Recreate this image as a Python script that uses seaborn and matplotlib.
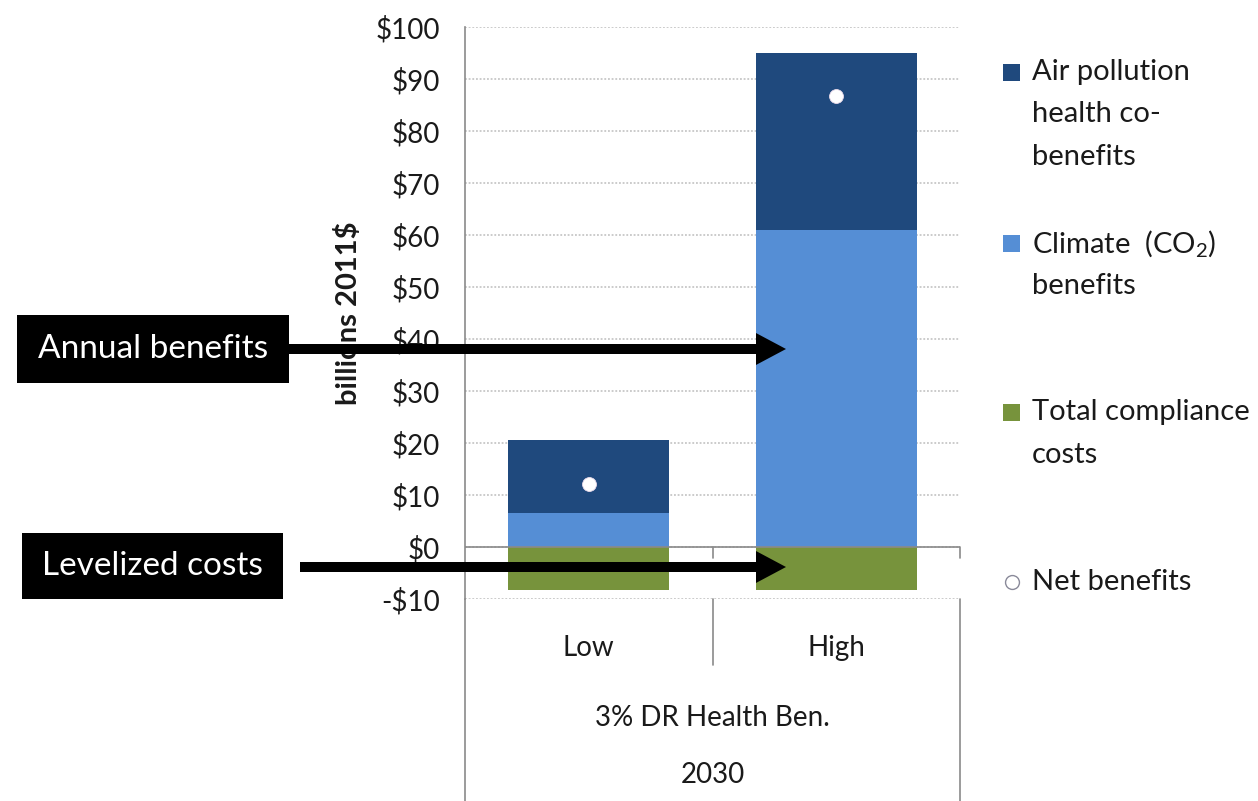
import numpy as np
import pandas as pd
import matplotlib
matplotlib.use("Agg")
import matplotlib.pyplot as plt
from matplotlib.patches import Rectangle, FancyArrowPatch
from matplotlib.lines import Line2D
import seaborn as sns

# ---- data (billions 2011$) ----
categories = ["Low", "High"]
climate_benefits = [6.5, 61.0]
health_cobenefits = [14.0, 34.0]
compliance_costs = [-8.3, -8.3]
net_benefits = [12.2, 86.7]
y_ticks = [-10, 0, 10, 20, 30, 40, 50, 60, 70, 80, 90, 100]
y_tick_labels = ["-$10", "$0", "$10", "$20", "$30", "$40", "$50",
                 "$60", "$70", "$80", "$90", "$100"]
group_label = "3% DR Health Ben."
year_label = "2030"

legend_entries = [
    (["Air pollution", "health co-", "benefits"], "square", "#1F497D"),
    (["Climate  (CO$_2$)", "benefits"], "square", "#558ED5"),
    (["Total compliance", "costs"], "square", "#77933C"),
    (["Net benefits"], "circle", "white"),
]

C_HEALTH = "#1F497D"
C_CLIMATE = "#558ED5"
C_COST = "#77933C"
AXIS_GRAY = "#8a8a8a"
TEXT = "#1a1a1a"

sns.set_style("white")
plt.rcParams["font.family"] = ["Lato", "DejaVu Sans"]
plt.rcParams["mathtext.fontset"] = "custom"
plt.rcParams["mathtext.rm"] = "Lato"
plt.rcParams["mathtext.default"] = "regular"

W, H = 1258, 801
fig = plt.figure(figsize=(W / 100, H / 100), dpi=100)


def fx(px):
    return px / W


def fy(py):
    return 1 - py / H


ax_left, ax_right, ax_top, ax_bottom = 465, 960, 27, 599
ax = fig.add_axes([fx(ax_left), fy(ax_bottom), fx(ax_right - ax_left),
                   (ax_bottom - ax_top) / H])

df = pd.DataFrame({
    "scenario": categories,
    "climate": climate_benefits,
    "health": health_cobenefits,
    "cost": compliance_costs,
    "net": net_benefits,
})
df["benefits_total"] = df["climate"] + df["health"]

bar_w = 0.65
bar_kw = dict(saturation=1, width=bar_w, ax=ax, zorder=2,
              edgecolor="none", linewidth=0)
# stacked benefits: total first, climate on top of it
sns.barplot(data=df, x="scenario", y="benefits_total", color=C_HEALTH, **bar_kw)
sns.barplot(data=df, x="scenario", y="climate", color=C_CLIMATE, **bar_kw)
sns.barplot(data=df, x="scenario", y="cost", color=C_COST, **bar_kw)
sns.stripplot(data=df, x="scenario", y="net", jitter=False, color="white",
              size=10, edgecolor="#ecdcec", linewidth=0.6, ax=ax, zorder=5)

n = len(categories)
ax.set_xlim(-0.5, n - 0.5)
ax.set_ylim(y_ticks[0], y_ticks[-1])
ax.set_yticks(y_ticks)
ax.set_yticklabels(y_tick_labels)
ax.set_xticks(range(n))
ax.set_xticklabels(categories)
ax.set_xlabel("")
ax.set_ylabel("")

ax.tick_params(axis="y", length=7, width=1.2, color=AXIS_GRAY, pad=11,
               labelsize=20, labelcolor=TEXT)
ax.tick_params(axis="x", length=0, pad=26, labelsize=20, labelcolor=TEXT)

ax.yaxis.grid(True, linestyle=(0, (1.2, 1.2)), color="#bdbdbd", lw=1.1)
ax.xaxis.grid(False)
ax.set_axisbelow(True)

for s in ["top", "right", "bottom"]:
    ax.spines[s].set_visible(False)
ax.spines["left"].set_color(AXIS_GRAY)
ax.spines["left"].set_linewidth(1.2)

# horizontal category axis at zero with short tick marks between groups
ax.axhline(0, color=AXIS_GRAY, lw=1.2, zorder=3)
bounds = np.arange(n + 1) - 0.5
for b in bounds[1:]:
    ax.plot([b, b], [0, -2.1], color=AXIS_GRAY, lw=1.2, zorder=3,
            clip_on=False)

# category table lines below the plot
fig.add_artist(Line2D([fx(ax_left)] * 2, [fy(ax_bottom), 0],
                      color=AXIS_GRAY, lw=1.2))
fig.add_artist(Line2D([fx(ax_right)] * 2, [fy(ax_bottom), 0],
                      color=AXIS_GRAY, lw=1.2))
mid_x = (ax_left + ax_right) / 2
fig.add_artist(Line2D([fx(mid_x)] * 2, [fy(ax_bottom), fy(665)],
                      color=AXIS_GRAY, lw=1.2))
fig.text(fx(mid_x), fy(718), group_label, ha="center", va="center",
         fontsize=20, color=TEXT)
fig.text(fx(mid_x), fy(775), year_label, ha="center", va="center",
         fontsize=20, color=TEXT)

# y-axis title
fig.text(fx(349), fy(313), "billions 2011$", rotation=90, ha="center",
         va="center", fontsize=21, fontweight="bold", color=TEXT)

# legend
line_gap = 42.5
for (lines, kind, col), y0 in zip(legend_entries, [72, 243, 412, 582]):
    if kind == "square":
        fig.add_artist(Rectangle((fx(1003), fy(y0 + 9)), fx(17), 17 / H,
                                 facecolor=col, edgecolor="none"))
    else:
        fig.add_artist(Line2D([fx(1012)], [fy(y0)], marker="o",
                              markersize=10, markerfacecolor="white",
                              markeredgecolor="#8a8a9a", markeredgewidth=1))
    for i, t in enumerate(lines):
        fig.text(fx(1032), fy(y0 + i * line_gap), t, ha="left",
                 va="center", fontsize=21, color=TEXT)

# callout boxes with arrows
callouts = [
    ("Annual benefits", (17, 315, 289, 383), 289, 349),
    ("Levelized costs", (22, 533, 283, 599), 300, 567),
]
for text, (x0, y0, x1, y1), ax0, ay in callouts:
    fig.add_artist(Rectangle((fx(x0), fy(y1)), fx(x1 - x0), (y1 - y0) / H,
                             facecolor="black", edgecolor="none", zorder=6))
    fig.text(fx((x0 + x1) / 2), fy((y0 + y1) / 2), text, ha="center",
             va="center", fontsize=24, color="white", zorder=7)
    arr = FancyArrowPatch(
        (fx(ax0), fy(ay)), (fx(786), fy(ay)),
        transform=fig.transFigure,
        arrowstyle="simple,head_length=21.6,head_width=23,tail_width=7.2",
        mutation_scale=1, facecolor="black", edgecolor="none", lw=0,
        shrinkA=0, shrinkB=0, zorder=8)
    fig.add_artist(arr)

fig.savefig("out.png", dpi=100, facecolor="white")
